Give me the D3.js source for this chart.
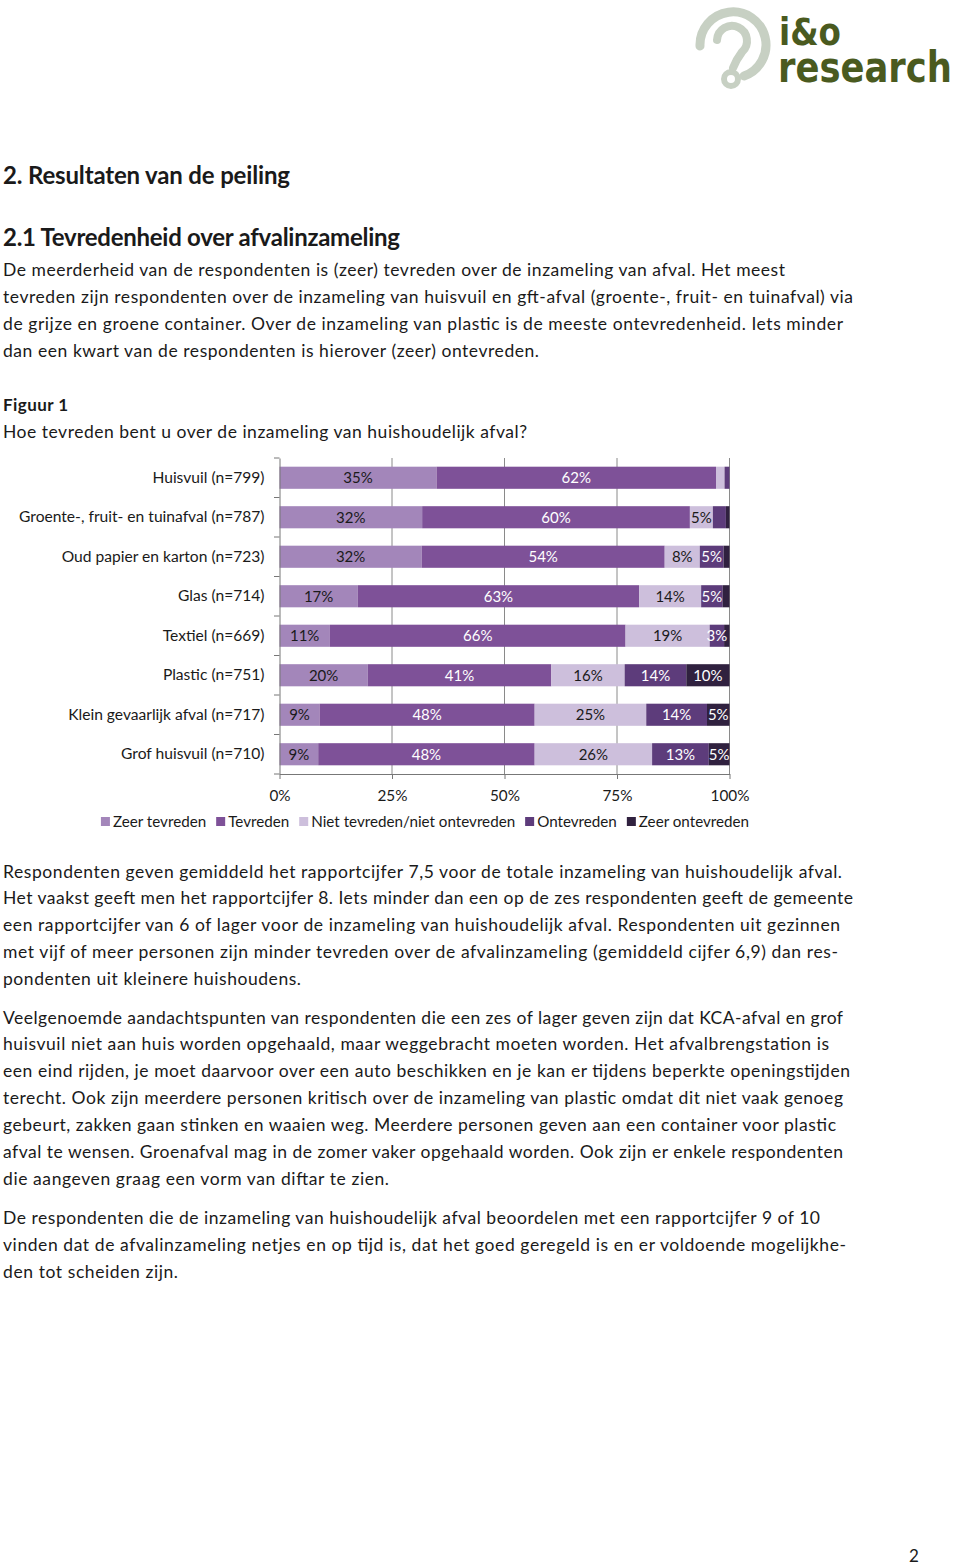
<!DOCTYPE html>
<html>
<head>
<meta charset="utf-8">
<script src="https://cdn.jsdelivr.net/npm/d3@7"></script>
<style>
  html, body { margin: 0; padding: 0; background: #ffffff; }
  svg { display: block; }
  text { font-family: Lato, "Open Sans", sans-serif; fill: #1a1a1a; }
</style>
</head>
<body>
<svg id="page" width="960" height="1567"></svg>
<script>
// ---------- chart data ----------
const categories = [
  "Huisvuil (n=799)",
  "Groente-, fruit- en tuinafval (n=787)",
  "Oud papier en karton (n=723)",
  "Glas (n=714)",
  "Textiel (n=669)",
  "Plastic (n=751)",
  "Klein gevaarlijk afval (n=717)",
  "Grof huisvuil (n=710)"
];
const seriesNames = ["Zeer tevreden", "Tevreden", "Niet tevreden/niet ontevreden", "Ontevreden", "Zeer ontevreden"];
const zeerTevreden   = [34.9, 31.7, 31.6, 17.4, 11.2, 19.6,  8.9,  8.6];
const tevreden       = [62.1, 59.5, 54.0, 62.5, 65.7, 40.8, 47.8, 48.1];
const nietTevreden   = [ 1.9,  5.1,  7.8, 13.8, 18.7, 16.3, 24.8, 26.1];
const ontevreden     = [ 1.1,  2.9,  5.3,  4.8,  3.2, 13.7, 13.5, 12.6];
const zeerOntevreden = [ 0.0,  0.8,  1.3,  1.5,  1.2,  9.6,  5.0,  4.6];
const xTicks = [0, 25, 50, 75, 100];
const seriesColors = ["#a386ba", "#7e5198", "#cdbfdc", "#5d3c7b", "#30213f"];
const labelColors  = ["#1a1a1a", "#ffffff", "#1a1a1a", "#ffffff", "#ffffff"];
const minLabel = 3;

// ---------- page text ----------
const bodyLines = [
  {y: 276, right: 785, t: "De meerderheid van de respondenten is (zeer) tevreden over de inzameling van afval. Het meest"},
  {y: 303, right: 853, t: "tevreden zijn respondenten over de inzameling van huisvuil en gft-afval (groente-, fruit- en tuinafval) via"},
  {y: 330, right: 843, t: "de grijze en groene container. Over de inzameling van plastic is de meeste ontevredenheid. Iets minder"},
  {y: 357, right: 539, t: "dan een kwart van de respondenten is hierover (zeer) ontevreden."},
  {y: 438, right: 527, t: "Hoe tevreden bent u over de inzameling van huishoudelijk afval?"},
  {y: 878, right: 842, t: "Respondenten geven gemiddeld het rapportcijfer 7,5 voor de totale inzameling van huishoudelijk afval."},
  {y: 904, right: 853, t: "Het vaakst geeft men het rapportcijfer 8. Iets minder dan een op de zes respondenten geeft de gemeente"},
  {y: 931, right: 840, t: "een rapportcijfer van 6 of lager voor de inzameling van huishoudelijk afval. Respondenten uit gezinnen"},
  {y: 958, right: 838, t: "met vijf of meer personen zijn minder tevreden over de afvalinzameling (gemiddeld cijfer 6,9) dan res-"},
  {y: 985, right: 301, t: "pondenten uit kleinere huishoudens."},
  {y: 1024, right: 843, t: "Veelgenoemde aandachtspunten van respondenten die een zes of lager geven zijn dat KCA-afval en grof"},
  {y: 1050, right: 829, t: "huisvuil niet aan huis worden opgehaald, maar weggebracht moeten worden. Het afvalbrengstation is"},
  {y: 1077, right: 850, t: "een eind rijden, je moet daarvoor over een auto beschikken en je kan er tijdens beperkte openingstijden"},
  {y: 1104, right: 843, t: "terecht. Ook zijn meerdere personen kritisch over de inzameling van plastic omdat dit niet vaak genoeg"},
  {y: 1131, right: 836, t: "gebeurt, zakken gaan stinken en waaien weg. Meerdere personen geven aan een container voor plastic"},
  {y: 1158, right: 843, t: "afval te wensen. Groenafval mag in de zomer vaker opgehaald worden. Ook zijn er enkele respondenten"},
  {y: 1185, right: 389, t: "die aangeven graag een vorm van diftar te zien."},
  {y: 1224, right: 820, t: "De respondenten die de inzameling van huishoudelijk afval beoordelen met een rapportcijfer 9 of 10"},
  {y: 1251, right: 846, t: "vinden dat de afvalinzameling netjes en op tijd is, dat het goed geregeld is en er voldoende mogelijkhe-"},
  {y: 1278, right: 178, t: "den tot scheiden zijn."}
];
const headings = [
  {y: 184, right: 290, size: 24, t: "2. Resultaten van de peiling"},
  {y: 246, right: 400, size: 24, t: "2.1 Tevredenheid over afvalinzameling"},
  {y: 411, right: 68, size: 17, t: "Figuur 1"}
];

const svg = d3.select("#page");

function fitWidth(sel, width, mode) {
  sel.each(function() {
    const w = this.getComputedTextLength();
    if (Math.abs(w - width) > 1) {
      d3.select(this).attr("textLength", width).attr("lengthAdjust", mode || "spacing");
    }
  });
}

// ---------- logo ----------
const logo = svg.append("g");
const logoGrey = "#c7d0c3";
logo.append("path")
  .attr("d", "M700,46 A33,33 0 1,1 744,76")
  .attr("fill", "none").attr("stroke", logoGrey).attr("stroke-width", 9).attr("stroke-linecap", "round");
logo.append("path")
  .attr("d", "M717,40 A15,15 0 1,1 742,52 Q736,60 733,68")
  .attr("fill", "none").attr("stroke", logoGrey).attr("stroke-width", 8).attr("stroke-linecap", "round");
logo.append("circle").attr("cx", 731).attr("cy", 79).attr("r", 7)
  .attr("fill", "#ffffff").attr("stroke", logoGrey).attr("stroke-width", 6);

function logoWord(txt, x0, y0, size, width) {
  const g = logo.append("g");
  const t = g.append("text").attr("x", 0).attr("y", 0)
    .style("font-family", "'DejaVu Sans', sans-serif").style("font-weight", "bold")
    .style("font-size", size + "px").style("fill", "#4a5a1f").text(txt);
  const w = t.node().getComputedTextLength();
  g.attr("transform", `translate(${x0},${y0}) scale(${width / w},1)`);
}
logoWord("i&o", 779, 45, 37, 62);
logoWord("research", 778, 82, 42, 174);

// ---------- headings & body ----------
headings.forEach(h => {
  svg.append("text").attr("x", 3).attr("y", h.y)
    .style("font-weight", "bold").style("font-size", h.size + "px")
    .text(h.t).call(fitWidth, h.right - 3);
});
bodyLines.forEach(l => {
  svg.append("text").attr("x", 3).attr("y", l.y)
    .style("font-size", "17.5px")
    .text(l.t).call(fitWidth, l.right - 3);
});
svg.append("text").attr("x", 909).attr("y", 1562)
  .style("font-size", "17px").text("2");

// ---------- chart ----------
const x = d3.scaleLinear().domain([0, 100]).range([279.5, 729.5]);
const y = d3.scaleBand().domain(categories).range([458, 774]).paddingInner(0.44).paddingOuter(0.22);
const seriesArrays = [zeerTevreden, tevreden, nietTevreden, ontevreden, zeerOntevreden];
const rows = categories.map((c, i) => {
  const r = {cat: c};
  seriesNames.forEach((s, j) => r[s] = seriesArrays[j][i]);
  return r;
});
const stacked = d3.stack().keys(seriesNames)(rows);

const chart = svg.append("g");
// gridlines
chart.append("g").selectAll("line").data(xTicks.filter(d => d > 0)).join("line")
  .attr("x1", d => x(d)).attr("x2", d => x(d))
  .attr("y1", 458).attr("y2", 774)
  .attr("stroke", "#8a8a8a").attr("stroke-width", 1);

svg.append("defs").append("clipPath").attr("id", "plotclip")
  .append("rect").attr("x", 279.5).attr("y", 440).attr("width", 450).attr("height", 340);

const layers = chart.append("g").selectAll("g").data(stacked).join("g")
  .attr("fill", (d, i) => seriesColors[i]);
layers.selectAll("rect").data(d => d).join("rect")
  .attr("x", d => x(d[0]))
  .attr("width", d => Math.max(0, x(d[1]) - x(d[0])))
  .attr("y", d => y(d.data.cat))
  .attr("height", y.bandwidth());

const labG = chart.append("g").attr("clip-path", "url(#plotclip)");
stacked.forEach((layer, i) => {
  labG.append("g").selectAll("text")
    .data(layer.filter(d => d[1] - d[0] >= minLabel)).join("text")
    .attr("x", d => (x(d[0]) + x(d[1])) / 2)
    .attr("y", d => y(d.data.cat) + y.bandwidth() / 2)
    .attr("dy", "0.36em")
    .attr("text-anchor", "middle")
    .style("font-size", "15px")
    .style("fill", labelColors[i])
    .text(d => Math.round(d[1] - d[0]) + "%");
});

// y axis
const yAxis = d3.axisLeft(y).tickSize(0).tickPadding(15);
const yg = chart.append("g").attr("transform", "translate(279.5,0)").call(yAxis);
yg.select(".domain").attr("stroke", "#777");
yg.selectAll("text").style("font-size", "15.6px").style("fill", "#1a1a1a").attr("font-family", null);
// band boundary ticks
const bounds = categories.map(c => y(c) - (y.step() - y.bandwidth()) / 2).concat([774]);
chart.append("g").selectAll("line").data(bounds).join("line")
  .attr("x1", 274).attr("x2", 279.5).attr("y1", d => d).attr("y2", d => d)
  .attr("stroke", "#777");

// x axis
const xAxis = d3.axisBottom(x).tickValues(xTicks).tickFormat(d => d + "%").tickSizeInner(5).tickSizeOuter(0).tickPadding(11);
const xg = chart.append("g").attr("transform", "translate(0,774)").call(xAxis);
xg.select(".domain").attr("stroke", "#777");
xg.selectAll(".tick line").attr("stroke", "#777");
xg.selectAll("text").style("font-size", "15.3px").style("fill", "#1a1a1a").attr("font-family", null);

// legend
const legend = svg.append("g");
let lx = 0;
seriesNames.forEach((s, i) => {
  const g = legend.append("g").attr("transform", `translate(${lx},0)`);
  g.append("rect").attr("x", 0).attr("y", -5).attr("width", 9).attr("height", 9).attr("fill", seriesColors[i]);
  const t = g.append("text").attr("x", 12).attr("y", 0).attr("dy", "0.36em")
    .style("font-size", "15.2px").text(s);
  lx += 12 + t.node().getComputedTextLength() + 10;
});
const legendW = lx - 10;
legend.attr("transform", `translate(${425 - legendW / 2},822)`);
</script>
</body>
</html>
